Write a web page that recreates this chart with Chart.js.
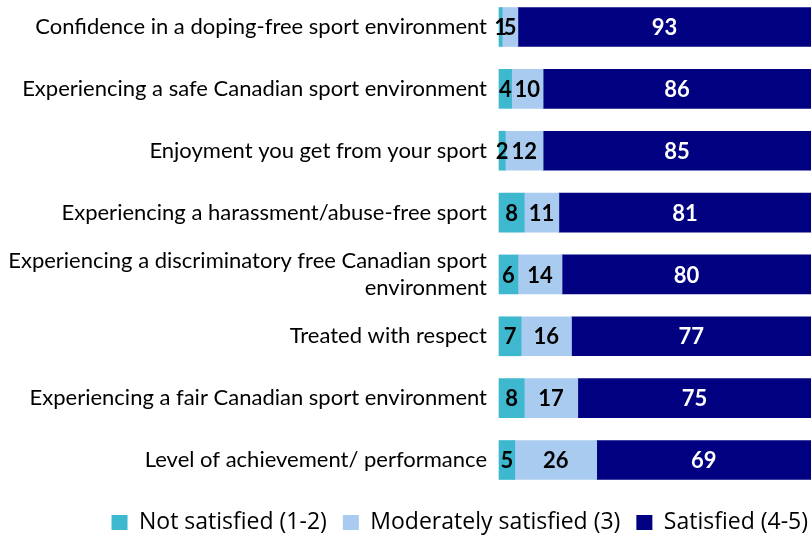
<!DOCTYPE html>
<html>
<head>
<meta charset="utf-8">
<script src="https://cdn.jsdelivr.net/npm/chart.js@4"></script>
<style>
  body { margin: 0; background: #fff; }
  canvas { display: block; }
</style>
</head>
<body>
<canvas id="chart" width="811" height="537"></canvas>
<script>
const categories = [
  'Confidence in a doping-free sport environment',
  'Experiencing a safe Canadian sport environment',
  'Enjoyment you get from your sport',
  'Experiencing a harassment/abuse-free sport',
  ['Experiencing a discriminatory free Canadian sport', 'environment'],
  'Treated with respect',
  'Experiencing a fair Canadian sport environment',
  'Level of achievement/ performance'
];
const notSatisfied = [1, 4, 2, 8, 6, 7, 8, 5];
const moderately = [5, 10, 12, 11, 14, 16, 17, 26];
const satisfied = [93, 86, 85, 81, 80, 77, 75, 69];

const FONT = 'Lato, "Open Sans", sans-serif';

// writes each segment's value in the middle of its bar
const valueLabels = {
  id: 'valueLabels',
  afterDatasetsDraw(chart) {
    const ctx = chart.ctx;
    const right = chart.width;
    ctx.save();
    ctx.font = 'bold 22px ' + FONT;
    ctx.textAlign = 'center';
    ctx.textBaseline = 'middle';
    chart.data.datasets.forEach((ds, i) => {
      chart.getDatasetMeta(i).data.forEach((bar, j) => {
        const { x, y, base } = bar.getProps(['x', 'y', 'base'], true);
        ctx.fillStyle = ds.labelColor;
        ctx.fillText(ds.data[j], (Math.min(x, right) + base) / 2, y + 1);
      });
    });
    ctx.restore();
  }
};

// nudge the legend row closer to the right edge
const legendShift = {
  id: 'legendShift',
  afterLayout(chart) {
    chart.legend.left += 13;
    chart.legend.right += 13;
  }
};

new Chart(document.getElementById('chart').getContext('2d'), {
  type: 'bar',
  data: {
    labels: categories,
    datasets: [
      { label: 'Not satisfied (1-2)', data: notSatisfied, backgroundColor: '#3db8cf', labelColor: '#000' },
      { label: 'Moderately satisfied (3)', data: moderately, backgroundColor: '#a9cbef', labelColor: '#000' },
      { label: 'Satisfied (4-5)', data: satisfied, backgroundColor: '#000080', labelColor: '#fff' }
    ]
  },
  options: {
    indexAxis: 'y',
    responsive: false,
    animation: false,
    layout: { padding: { top: 27, right: 0, bottom: -7 } },
    datasets: { bar: { barThickness: 39, clip: false, borderWidth: 0 } },
    scales: {
      // rounded shares sum to 99-100, so every bar runs to the edge
      x: { stacked: true, min: 0, max: 99, display: false },
      y: {
        stacked: true,
        offset: false,
        border: { display: false },
        grid: { display: false, drawTicks: false },
        ticks: { color: '#000', padding: 12, font: { family: FONT, size: 22 } },
        afterFit(scale) { scale.width = 499; }
      }
    },
    plugins: {
      tooltip: { enabled: false },
      legend: {
        position: 'bottom',
        align: 'end',
        // empty title only adds space above the legend row
        title: { display: true, text: '', font: { size: 10 }, padding: { top: 23, bottom: 0 } },
        labels: {
          color: '#000',
          boxWidth: 16,
          boxHeight: 15,
          padding: 16,
          font: { family: '"Open Sans", sans-serif', size: 23 }
        }
      }
    }
  },
  plugins: [valueLabels, legendShift]
});
</script>
</body>
</html>
